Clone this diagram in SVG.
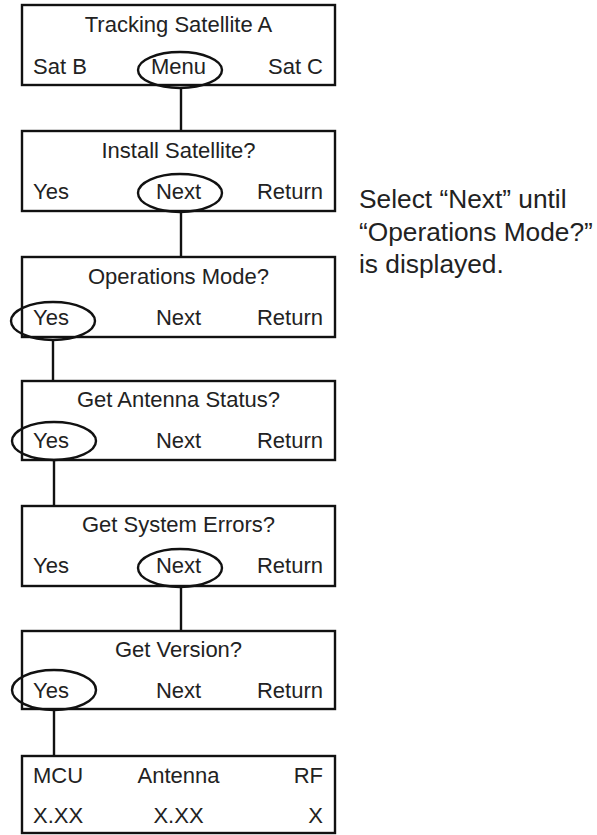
<svg xmlns="http://www.w3.org/2000/svg" width="597" height="835" viewBox="0 0 597 835">
<style>
.box{fill:#fff;stroke:#111;stroke-width:2.4}
.ov{fill:none;stroke:#111;stroke-width:2.4}
.ln{stroke:#111;stroke-width:2.4;fill:none}
text{font-family:"Liberation Sans",Arial,sans-serif;font-size:22px;fill:#222}
.c{text-anchor:middle}
.r{text-anchor:end}
.side{font-size:26.3px}
</style>
<rect width="597" height="835" fill="#fff"/>
<g id="connectors">
<line class="ln" x1="181" y1="88" x2="181" y2="131"/>
<line class="ln" x1="181" y1="212" x2="181" y2="257"/>
<line class="ln" x1="53" y1="340" x2="53" y2="381"/>
<line class="ln" x1="54" y1="460" x2="54" y2="506"/>
<line class="ln" x1="181" y1="587" x2="181" y2="631"/>
<line class="ln" x1="54" y1="710" x2="54" y2="756"/>
</g>
<g id="n1">
<rect class="box" x="22" y="5" width="313" height="80"/>
<text class="c" x="178.5" y="32">Tracking Satellite A</text>
<text x="33" y="74">Sat B</text>
<text class="c" x="178.5" y="74">Menu</text>
<text class="r" x="323" y="74">Sat C</text>
<ellipse class="ov" cx="180" cy="70" rx="42" ry="18"/>
</g>
<g id="n2">
<rect class="box" x="22" y="131" width="313" height="80"/>
<text class="c" x="178.5" y="158">Install Satellite?</text>
<text x="33" y="199">Yes</text>
<text class="c" x="178.5" y="199">Next</text>
<text class="r" x="323" y="199">Return</text>
<ellipse class="ov" cx="180" cy="193" rx="42" ry="19"/>
</g>
<g id="n3">
<rect class="box" x="22" y="257" width="313" height="80"/>
<text class="c" x="178.5" y="284">Operations Mode?</text>
<text x="33" y="325">Yes</text>
<text class="c" x="178.5" y="325">Next</text>
<text class="r" x="323" y="325">Return</text>
<ellipse class="ov" cx="53" cy="321" rx="42" ry="19"/>
</g>
<g id="n4">
<rect class="box" x="22" y="381" width="313" height="79"/>
<text class="c" x="178.5" y="407">Get Antenna Status?</text>
<text x="33" y="448">Yes</text>
<text class="c" x="178.5" y="448">Next</text>
<text class="r" x="323" y="448">Return</text>
<ellipse class="ov" cx="54" cy="441" rx="42" ry="19"/>
</g>
<g id="n5">
<rect class="box" x="22" y="506" width="313" height="80"/>
<text class="c" x="178.5" y="532">Get System Errors?</text>
<text x="33" y="573">Yes</text>
<text class="c" x="178.5" y="573">Next</text>
<text class="r" x="323" y="573">Return</text>
<ellipse class="ov" cx="180" cy="568" rx="42" ry="19"/>
</g>
<g id="n6">
<rect class="box" x="22" y="631" width="313" height="78"/>
<text class="c" x="178.5" y="657">Get Version?</text>
<text x="33" y="698">Yes</text>
<text class="c" x="178.5" y="698">Next</text>
<text class="r" x="323" y="698">Return</text>
<ellipse class="ov" cx="54" cy="690" rx="42" ry="20"/>
</g>
<g id="n7">
<rect class="box" x="22" y="756" width="313" height="77"/>
<text x="33" y="783">MCU</text>
<text class="c" x="178.5" y="783">Antenna</text>
<text class="r" x="323" y="783">RF</text>
<text x="33" y="823">X.XX</text>
<text class="c" x="178.5" y="823">X.XX</text>
<text class="r" x="323" y="823">X</text>
</g>
<g id="note">
<text class="side" x="359" y="208">Select “Next” until</text>
<text class="side" x="359" y="241">“Operations Mode?”</text>
<text class="side" x="359" y="273">is displayed.</text>
</g>
</svg>
